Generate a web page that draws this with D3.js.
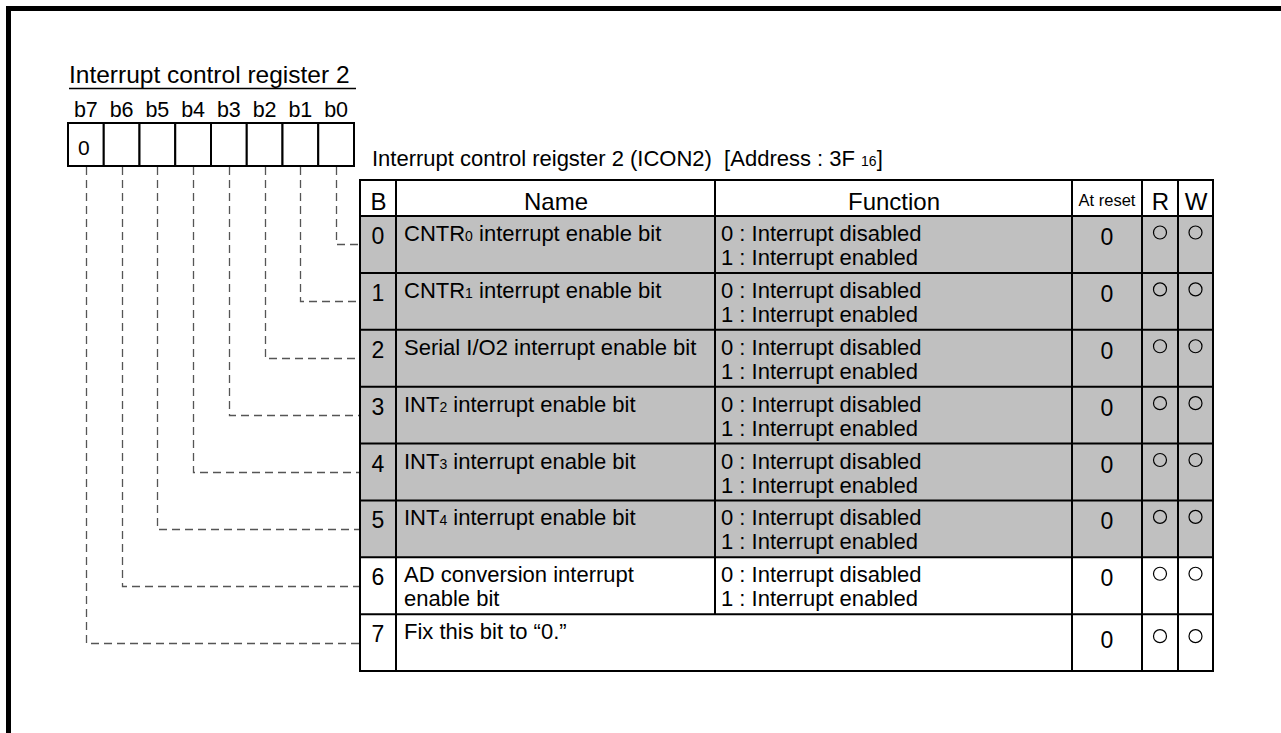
<!DOCTYPE html>
<html>
<head>
<meta charset="utf-8">
<script src="https://cdn.jsdelivr.net/npm/d3@7"></script>
<style>
  html, body { margin: 0; padding: 0; background: #fff; }
  svg text { font-family: "Liberation Sans", Arial, Helvetica, sans-serif; fill: #000; white-space: pre; }
</style>
</head>
<body>
<svg id="chart" width="1281" height="733"></svg>
<script>
// ---------------- data ----------------
const registerTitle = "Interrupt control register 2";
const tableTitle = "Interrupt control reigster 2 (ICON2)  [Address : 3F {16}]";
const bitLabels = ["b7", "b6", "b5", "b4", "b3", "b2", "b1", "b0"];
const registerValues = ["0", "", "", "", "", "", "", ""];
const headers = ["B", "Name", "Function", "At reset", "R", "W"];
const bits = [0, 1, 2, 3, 4, 5, 6, 7];
const names = [
  ["CNTR{0} interrupt enable bit"],
  ["CNTR{1} interrupt enable bit"],
  ["Serial I/O2 interrupt enable bit"],
  ["INT{2} interrupt enable bit"],
  ["INT{3} interrupt enable bit"],
  ["INT{4} interrupt enable bit"],
  ["AD conversion interrupt", "enable bit"],
  ["Fix this bit to \u201C0.\u201D"]
];
const functions = [
  ["0 : Interrupt disabled", "1 : Interrupt enabled"],
  ["0 : Interrupt disabled", "1 : Interrupt enabled"],
  ["0 : Interrupt disabled", "1 : Interrupt enabled"],
  ["0 : Interrupt disabled", "1 : Interrupt enabled"],
  ["0 : Interrupt disabled", "1 : Interrupt enabled"],
  ["0 : Interrupt disabled", "1 : Interrupt enabled"],
  ["0 : Interrupt disabled", "1 : Interrupt enabled"],
  null
];
const resetValues = ["0", "0", "0", "0", "0", "0", "0", "0"];
const readable = [true, true, true, true, true, true, true, true];
const writable = [true, true, true, true, true, true, true, true];
const shaded = [true, true, true, true, true, true, false, false];

// ---------------- layout ----------------
const svg = d3.select("#chart");
const GRAY = "#c0c0c0";

// frame
svg.append("rect").attr("x", 8.5).attr("y", 8.5).attr("width", 1400).attr("height", 900)
  .attr("fill", "none").attr("stroke", "#000").attr("stroke-width", 5);

// register boxes
const xReg = d3.scaleBand().domain(bitLabels).range([68, 354]).padding(0);
const regTop = 123, regBottom = 166;

// table columns (edges)
const colEdges = [360, 396, 715, 1072, 1142, 1178, 1213];
const headerTop = 180, headerBottom = 216, tableBottom = 671;
const yRow = d3.scaleBand().domain(bits).range([headerBottom, tableBottom]).padding(0);

// rich text helper: {x} => subscript (smaller, on baseline)
function richText(sel, str, size, subSize) {
  const parts = str.split(/(\{[^}]*\})/).filter(s => s.length);
  parts.forEach(p => {
    if (p.startsWith("{")) {
      sel.append("tspan").attr("font-size", subSize).text(p.slice(1, -1));
    } else {
      sel.append("tspan").attr("font-size", size).text(p);
    }
  });
}

// title
svg.append("text").attr("x", 69).attr("y", 83)
  .attr("font-size", 24.5).text(registerTitle);
svg.append("line").attr("x1", 69).attr("x2", 356).attr("y1", 88.5).attr("y2", 88.5)
  .attr("stroke", "#000").attr("stroke-width", 1.4);

// bit labels
svg.append("g").selectAll("text").data(bitLabels).join("text")
  .attr("x", d => xReg(d) + xReg.bandwidth() / 2)
  .attr("y", 117).attr("text-anchor", "middle").attr("font-size", 21.5)
  .text(d => d);

// register cells
const regG = svg.append("g");
regG.selectAll("rect").data(bitLabels).join("rect")
  .attr("x", d => xReg(d)).attr("y", regTop)
  .attr("width", xReg.bandwidth()).attr("height", regBottom - regTop)
  .attr("fill", "#fff").attr("stroke", "#000").attr("stroke-width", 2);
regG.selectAll("text").data(bitLabels).join("text")
  .attr("x", d => xReg(d) + 10).attr("y", 155).attr("font-size", 21)
  .text((d, i) => registerValues[i]);

// dashed connectors
const connG = svg.append("g").attr("fill", "none").attr("stroke", "#555")
  .attr("stroke-width", 1.3).attr("stroke-dasharray", "8,5");
bits.forEach(b => {
  const label = "b" + b;
  const x = Math.round(xReg(label) + xReg.bandwidth() / 2) + 0.5;
  const y = Math.round(yRow(b) + yRow.bandwidth() / 2) + 0.5;
  connG.append("path").attr("d", `M${x},${regBottom + 1}V${y}H${colEdges[0]}`);
});

// table title
const tt = svg.append("text").attr("x", 372).attr("y", 166);
richText(tt, tableTitle, 22, 14);

// header
const hg = svg.append("g");
hg.append("rect").attr("x", colEdges[0]).attr("y", headerTop)
  .attr("width", colEdges[6] - colEdges[0]).attr("height", headerBottom - headerTop)
  .attr("fill", "#fff");
headers.forEach((h, c) => {
  const cx = (colEdges[c] + colEdges[c + 1]) / 2;
  const small = h === "At reset";
  hg.append("text").attr("x", cx + (small ? 0 : 0.5)).attr("y", small ? 206 : 210)
    .attr("text-anchor", "middle").attr("font-size", small ? 16.5 : 24)
    .text(h);
});

// rows
const rg = svg.append("g");
bits.forEach((b, i) => {
  const top = yRow(b), h = yRow.bandwidth();
  const fill = shaded[i] ? GRAY : "#fff";
  const single = !functions[i];
  rg.append("rect").attr("x", colEdges[0]).attr("y", top)
    .attr("width", colEdges[6] - colEdges[0]).attr("height", h).attr("fill", fill);
  // B number
  rg.append("text").attr("x", (colEdges[0] + colEdges[1]) / 2).attr("y", top + 28)
    .attr("text-anchor", "middle").attr("font-size", 23).text(b);
  // name
  names[i].forEach((line, k) => {
    const t = rg.append("text").attr("x", colEdges[1] + 8).attr("y", top + 25 + k * 24);
    richText(t, line, 22, 14);
  });
  // function
  if (functions[i]) {
    functions[i].forEach((line, k) => {
      rg.append("text").attr("x", colEdges[2] + 6).attr("y", top + 25 + k * 24)
        .attr("font-size", 22).text(line);
    });
  }
  // reset
  rg.append("text").attr("x", (colEdges[3] + colEdges[4]) / 2).attr("y", top + (single ? 34 : 29))
    .attr("text-anchor", "middle").attr("font-size", 23).text(resetValues[i]);
  // R / W
  [[readable[i], 4], [writable[i], 5]].forEach(([on, c]) => {
    if (on) rg.append("circle").attr("cx", (colEdges[c] + colEdges[c + 1]) / 2)
      .attr("cy", top + (single ? 22 : 16.5)).attr("r", 6.5).attr("fill", "none")
      .attr("stroke", "#000").attr("stroke-width", 1.2);
  });
});

// grid lines
const gl = svg.append("g").attr("stroke", "#000").attr("stroke-width", 2).attr("fill", "none");
gl.append("rect").attr("x", colEdges[0]).attr("y", headerTop)
  .attr("width", colEdges[6] - colEdges[0]).attr("height", tableBottom - headerTop);
bits.forEach(b => {
  gl.append("line").attr("x1", colEdges[0]).attr("x2", colEdges[6])
    .attr("y1", yRow(b)).attr("y2", yRow(b));
});
colEdges.slice(1, 6).forEach((x, c) => {
  const col = c + 1;
  const y2 = col === 2 ? yRow(7) : tableBottom; // last row spans Name+Function
  gl.append("line").attr("x1", x).attr("x2", x).attr("y1", headerTop).attr("y2", y2);
});
</script>
</body>
</html>
